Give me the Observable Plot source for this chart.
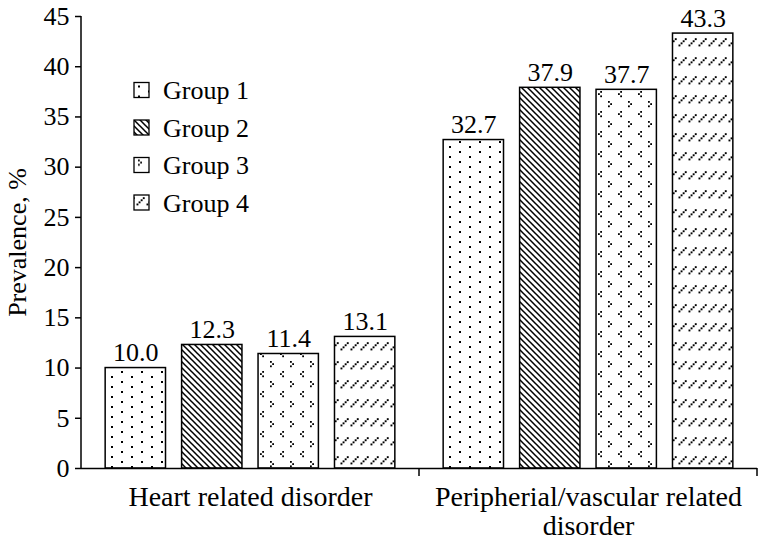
<!DOCTYPE html>
<html>
<head>
<meta charset="utf-8">
<script src="https://cdn.jsdelivr.net/npm/d3@7"></script>
<script src="https://cdn.jsdelivr.net/npm/@observablehq/plot@0.6"></script>
<style>
  body { margin: 0; background: #fff; }
  #chart { width: 760px; height: 545px; }
</style>
</head>
<body>
<div id="chart"></div>
<script>
// ---- data ----
const categories = ["Heart related disorder", "Peripherial/vascular related disorder"];
const categoryLabels = ["Heart related disorder", "Peripherial/vascular related\ndisorder"];
const groups = ["Group 1", "Group 2", "Group 3", "Group 4"];
const heartValues = [10.0, 12.3, 11.4, 13.1];
const peripheralValues = [32.7, 37.9, 37.7, 43.3];
const yTicks = [0, 5, 10, 15, 20, 25, 30, 35, 40, 45];
const yLabel = "Prevalence, %";
const patternIds = ["pat-dots", "pat-diag", "pat-chev", "pat-slash"];

const seriesByCategory = [heartValues, peripheralValues];
const data = categories.flatMap((c, ci) =>
  groups.map((g, gi) => ({category: c, group: g, value: seriesByCategory[ci][gi]}))
);
const fillOf = new Map(groups.map((g, i) => [g, `url(#${patternIds[i]})`]));

const FONT = "'Liberation Serif', 'Times New Roman', Times, serif";

const plot = Plot.plot({
  width: 760,
  height: 545,
  marginLeft: 81,
  marginRight: 3,
  marginTop: 16,
  marginBottom: 77,
  style: {fontFamily: FONT, fontSize: "26px", color: "#000", background: "#fff", overflow: "visible"},
  fx: {domain: categories, padding: 0, axis: null, round: false},
  x: {domain: groups, paddingInner: 16 / 76, paddingOuter: 0.316, axis: null, round: false},
  y: {domain: [0, 45], axis: null},
  color: {type: "identity"},
  marks: [
    Plot.barY(data, {
      fx: "category", x: "group", y: "value",
      fill: d => fillOf.get(d.group),
      stroke: "#000", strokeWidth: 1.5
    }),
    Plot.text(data, {
      fx: "category", x: "group", y: "value",
      text: d => d.value.toFixed(1),
      dy: -7, lineAnchor: "bottom", fontSize: 26
    }),
    Plot.ruleY([0], {stroke: "#000", strokeWidth: 1.5}),
    Plot.axisY({
      ticks: yTicks, tickSize: 6, tickPadding: 6, fontSize: 26,
      label: yLabel, labelAnchor: "center", labelOffset: 74, labelArrow: "none",
      stroke: "#000", strokeWidth: 1.5
    }),
    Plot.text(categories, {
      fx: d => d,
      text: (d, i) => categoryLabels[i],
      frameAnchor: "bottom", lineAnchor: "top", dy: 17, lineHeight: 1.04, fontSize: 28
    })
  ]
});

document.getElementById("chart").appendChild(plot);

// ---- patterns ----
const svg = d3.select(plot.tagName.toLowerCase() === "svg" ? plot : plot.querySelector("svg"));
const defs = svg.insert("defs", ":first-child");

function tile(id, w, h, tx = 0, ty = 0) {
  const p = defs.append("pattern").attr("id", id)
    .attr("patternUnits", "userSpaceOnUse").attr("width", w).attr("height", h)
    .attr("patternTransform", `translate(${tx},${ty})`);
  p.append("rect").attr("width", w).attr("height", h).attr("fill", "#fff");
  return p;
}
function dot(p, x, y, s = 2) {
  p.append("rect").attr("x", x).attr("y", y).attr("width", s).attr("height", s).attr("fill", "#000");
}
const painters = [
  // Group 1: staggered dots
  (id, tx, ty) => { const p = tile(id, 20, 10, tx, ty); dot(p, 1, 1); dot(p, 11, 6); },
  // Group 2: diagonal down-right lines
  (id, tx, ty) => {
    const p = tile(id, 6, 6, tx, ty);
    p.append("path").attr("d", "M-1,-1L7,7M-1,5L1,7M5,-1L7,1")
      .attr("stroke", "#000").attr("stroke-width", 1.5).attr("fill", "none");
  },
  // Group 3: chevrons > and <
  (id, tx, ty) => {
    const p = tile(id, 20, 20, tx, ty); const s = 1.8;
    dot(p, 10, 1, s); dot(p, 12.2, 3.2, s); dot(p, 10, 5.4, s);
    dot(p, 2.2, 11, s); dot(p, 0, 13.2, s); dot(p, 2.2, 15.4, s);
  },
  // Group 4: rows of dashed forward slashes
  (id, tx, ty) => {
    const p = tile(id, 10, 19, tx, ty); const s = 1.9;
    dot(p, 0.5, 6.5, s); dot(p, 2.6, 4.4, s); dot(p, 4.7, 2.3, s); dot(p, 6.8, 0.2, s);
  }
];
painters.forEach((paint, i) => paint(patternIds[i], 0, 0));

// ---- axis line and category boundary ticks (from Plot's scales) ----
const yS = plot.scale("y");
const fxS = plot.scale("fx");
const y0 = yS.apply(0), yTop = yS.apply(45);
const axisG = svg.append("g").attr("stroke", "#000").attr("stroke-width", 1.5);
axisG.append("line").attr("x1", 81).attr("x2", 81).attr("y1", y0 + 0.75).attr("y2", yTop);
categories.forEach(c => {
  const xr = fxS.apply(c) + fxS.bandwidth;
  axisG.append("line").attr("x1", xr).attr("x2", xr).attr("y1", y0).attr("y2", y0 + 8);
});

// ---- legend ----
const legend = svg.append("g").attr("font-family", FONT).attr("font-size", 26).attr("text-anchor", "start");
const legendOffsets = [[3, 2], [0, 0], [-6, 1], [2, 2]];
groups.forEach((g, i) => {
  const cy = 90 + i * 37.5;
  const sx = 134, sy = cy - 7.5;
  const lid = patternIds[i] + "-legend";
  painters[i](lid, sx + legendOffsets[i][0], sy + legendOffsets[i][1]);
  legend.append("rect").attr("x", sx).attr("y", sy).attr("width", 15).attr("height", 15)
    .attr("fill", `url(#${lid})`).attr("stroke", "#000").attr("stroke-width", 1.3);
  legend.append("text").attr("x", 163).attr("y", cy + 9).attr("fill", "#000").text(g);
});
</script>
</body>
</html>
